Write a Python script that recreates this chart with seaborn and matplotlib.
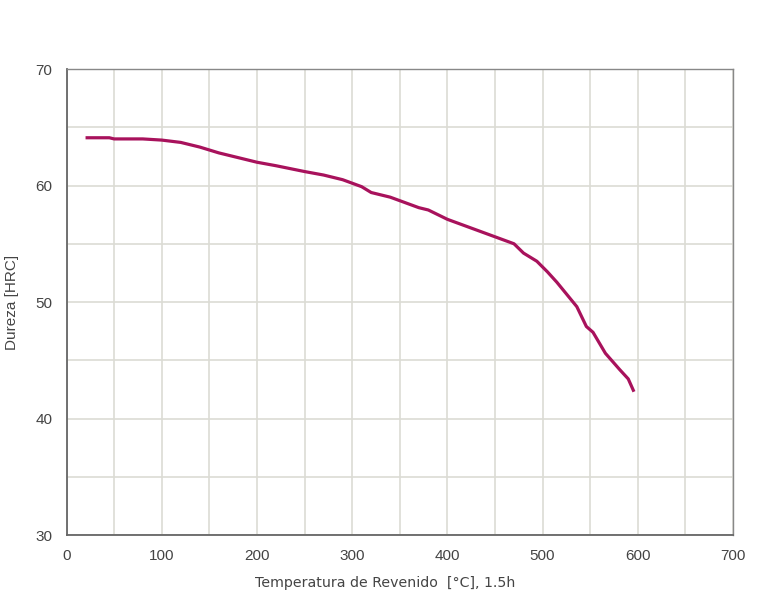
import numpy as np
import pandas as pd
import matplotlib
matplotlib.use("Agg")
import matplotlib.pyplot as plt
import seaborn as sns
from matplotlib.ticker import MultipleLocator

# --- DATA ---
temp = [20, 45, 50, 80, 100, 120, 140, 160, 180, 200, 220, 250, 270, 290,
        300, 310, 320, 340, 350, 370, 380, 400, 420, 440, 460, 470, 480,
        494, 505, 515, 525, 536, 546, 553, 566, 581, 590, 596]
hardness = [64.1, 64.1, 64.0, 64.0, 63.9, 63.7, 63.3, 62.8, 62.4, 62.0, 61.7,
            61.2, 60.9, 60.5, 60.2, 59.9, 59.4, 59.0, 58.7, 58.1, 57.9, 57.1,
            56.5, 55.9, 55.3, 55.0, 54.2, 53.5, 52.6, 51.7, 50.7, 49.6, 47.9,
            47.4, 45.6, 44.2, 43.4, 42.3]

df = pd.DataFrame({'temp': temp, 'hrc': hardness})

sns.set_style("white")
plt.rcParams['font.family'] = ['Liberation Sans', 'DejaVu Sans']

fig = plt.figure(figsize=(7.68, 5.95), dpi=100)
ax = fig.add_axes([0.0866, 0.1008, 0.8678, 0.7832])

sns.lineplot(data=df, x='temp', y='hrc', ax=ax, color='#a8125c',
             linewidth=2.3, solid_capstyle='butt')

ax.set_xlim(0, 700)
ax.set_ylim(30, 70)
ax.xaxis.set_major_locator(MultipleLocator(100))
ax.xaxis.set_minor_locator(MultipleLocator(50))
ax.yaxis.set_major_locator(MultipleLocator(10))
ax.yaxis.set_minor_locator(MultipleLocator(5))
ax.grid(which='both', color='#dcdcd4', linewidth=1.2)
ax.set_axisbelow(True)

ax.tick_params(axis='both', which='major', direction='out', length=6,
               width=1.2, color='#666666', labelsize=11,
               labelcolor='#444444', pad=4)
ax.tick_params(axis='both', which='minor', length=0)

for side in ['left', 'bottom']:
    ax.spines[side].set_color('#666666')
    ax.spines[side].set_linewidth(1.3)
for side in ['top', 'right']:
    ax.spines[side].set_color('#888888')
    ax.spines[side].set_linewidth(1.0)

ax.set_xlabel('Temperatura de Revenido  [°C], 1.5h', fontsize=10.2,
              color='#444444', family=['DejaVu Sans'])
ax.xaxis.set_label_coords(0.478, -0.088)
ax.set_ylabel('Dureza [HRC]', fontsize=11, color='#444444')
ax.yaxis.set_label_coords(-0.072, 0.5)

fig.savefig('out.png', dpi=100)
